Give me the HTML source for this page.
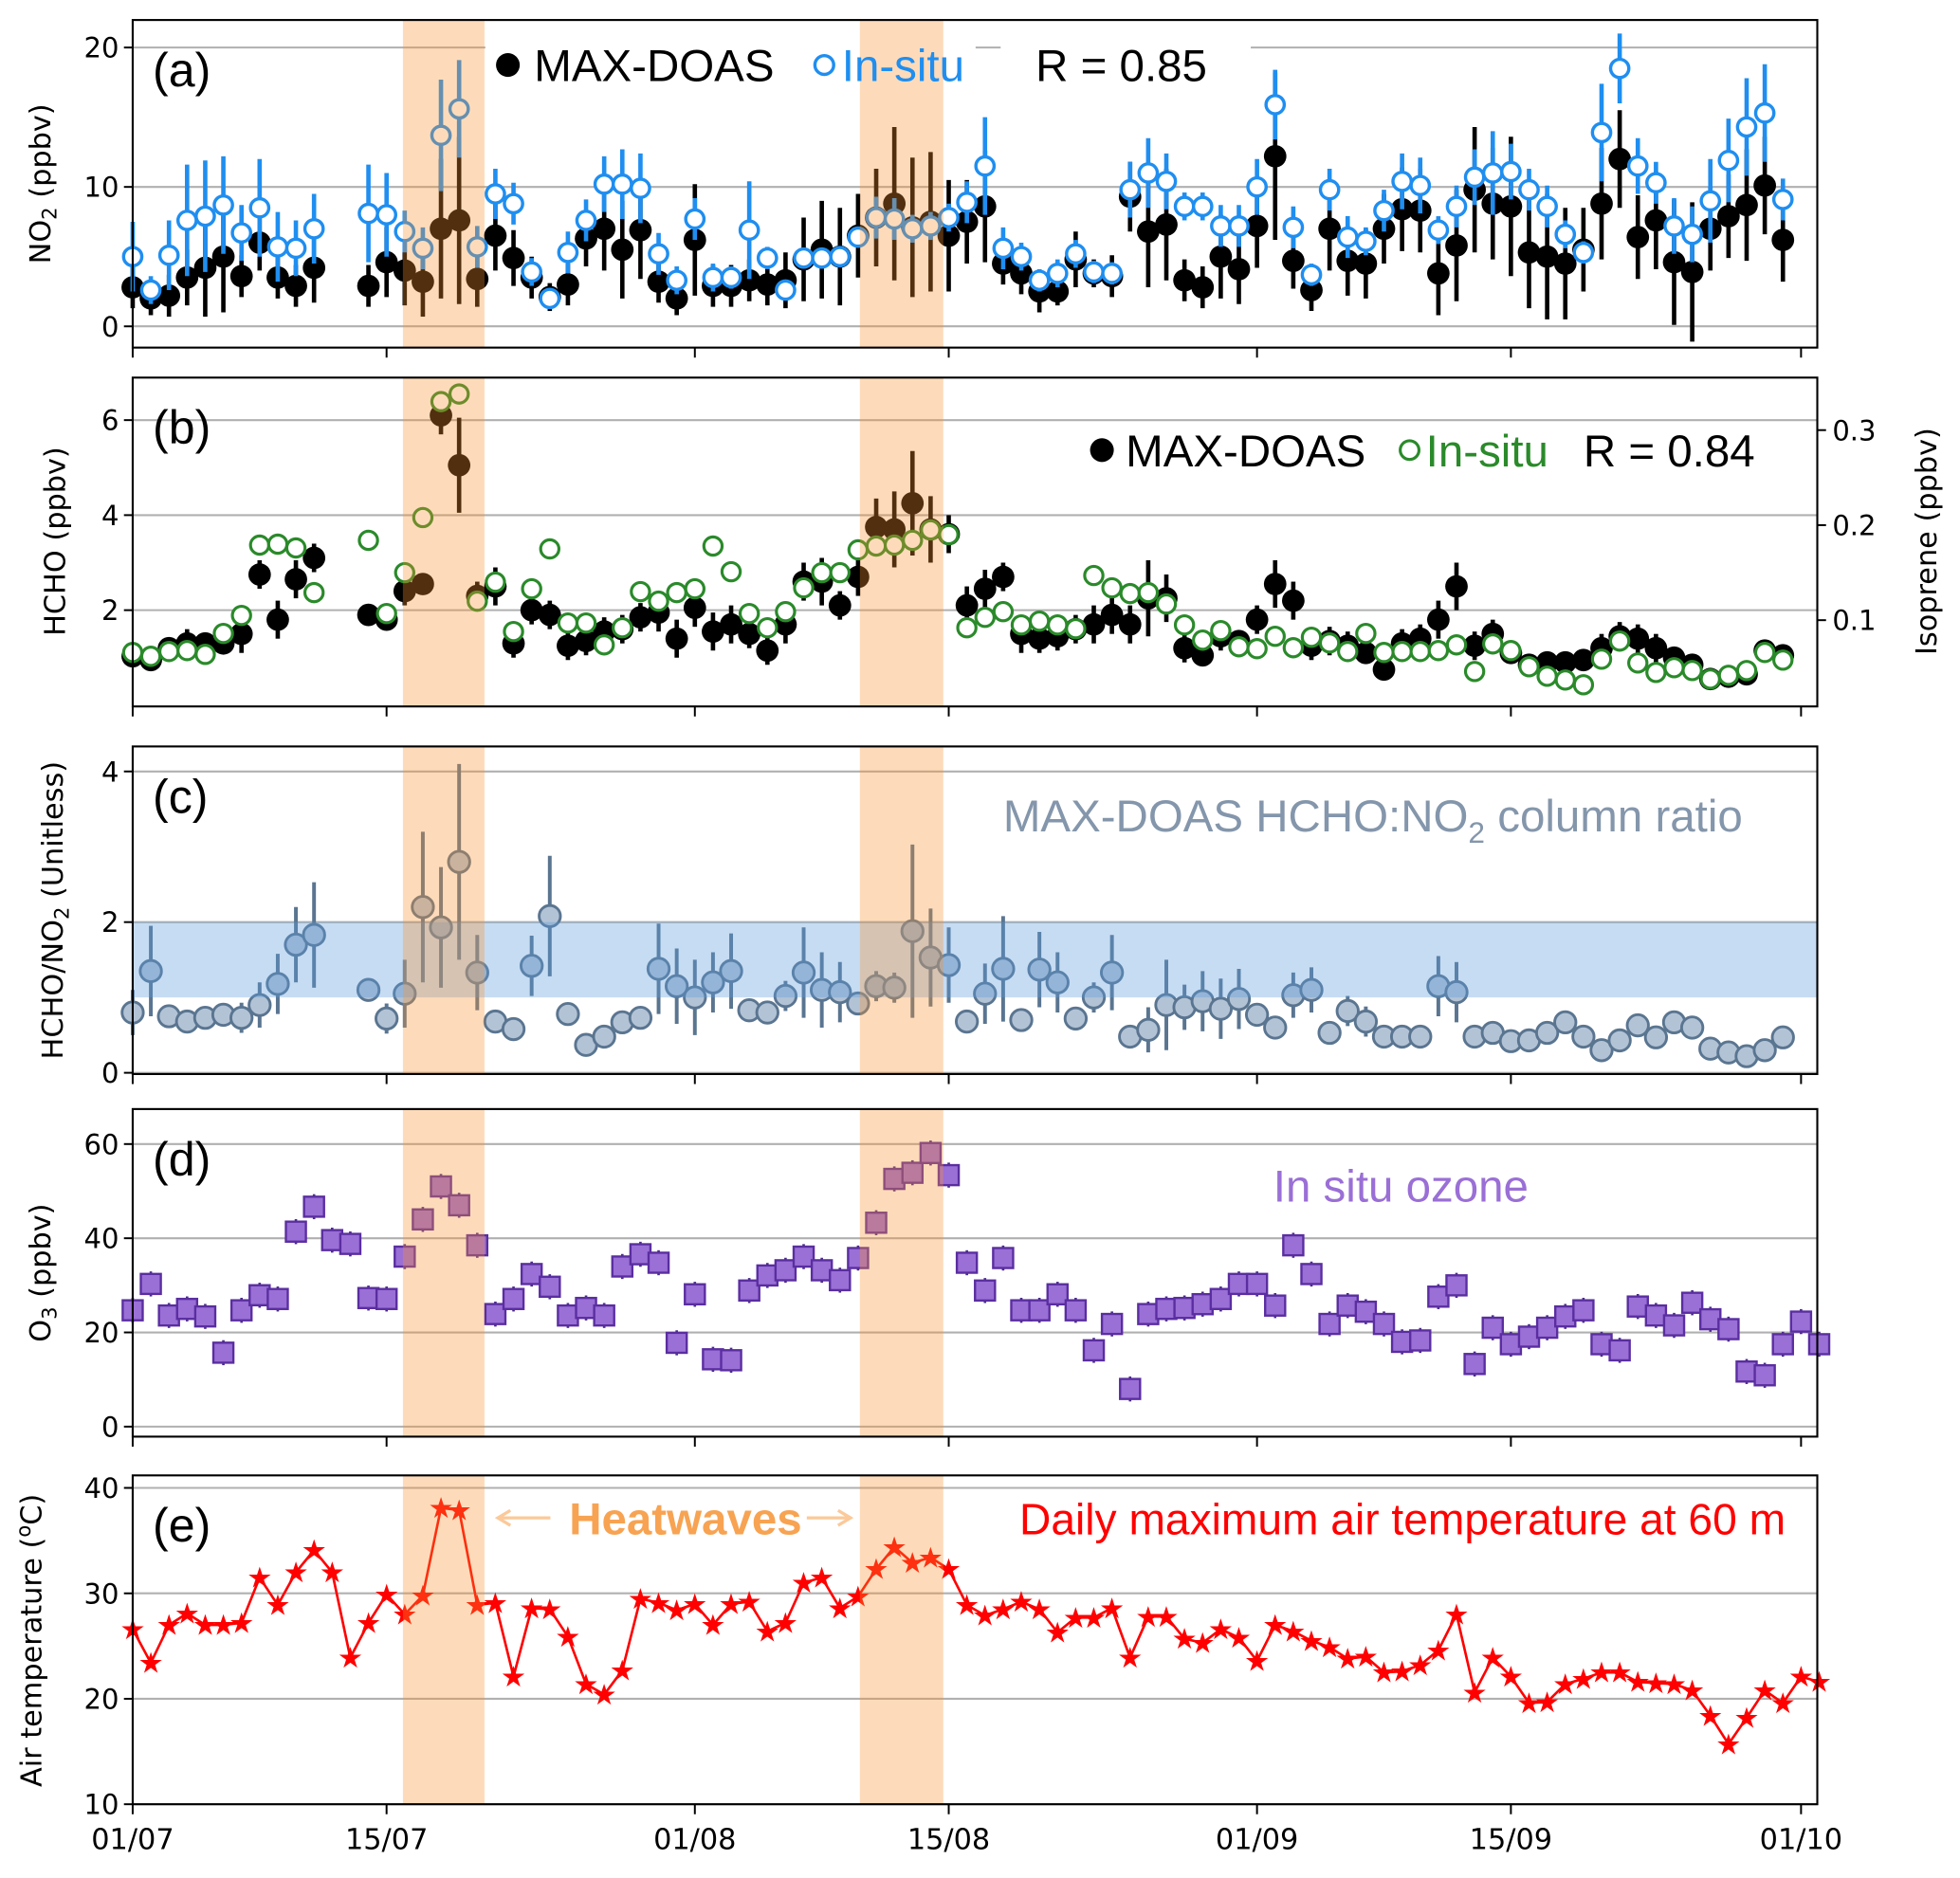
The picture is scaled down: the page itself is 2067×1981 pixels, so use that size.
<!DOCTYPE html>
<html><head><meta charset="utf-8"><style>
html,body{margin:0;padding:0;background:#fff}
svg{display:block;font-family:"Liberation Sans",sans-serif}
.dj{font-family:"DejaVu Sans",sans-serif}
</style></head><body>
<svg id="chart" width="2067" height="1981" viewBox="0 0 1567 1502" xmlns="http://www.w3.org/2000/svg">
<rect width="1567" height="1502" fill="#fff"/>
<g id="layer"></g>
</svg>
<script>
// ---------- data ----------
const xTickDays=[0,14,31,45,62,76,92];
const xTickLabels=["01/07","15/07","01/08","15/08","01/09","15/09","01/10"];
const heatwaves=[[14.9,19.4],[40.1,44.7]];

const aDays=[0,1,2,3,4,5,6,7,8,9,10,13,14,15,16,17,18,19,20,21,22,23,24,25,26,27,28,29,30,31,32,33,34,35,36,37,38,39,40,41,42,43,44,45,46,47,48,49,50,51,52,53,54,55,56,57,58,59,60,61,62,63,64,65,66,67,68,69,70,71,72,73,74,75,76,77,78,79,80,81,82,83,84,85,86,87,88,89,90,91];
const no2Max=[2.8,2.0,2.2,3.5,4.2,5.0,3.6,6.0,3.5,2.9,4.2,2.9,4.6,4.0,3.2,7.0,7.6,3.4,6.5,4.9,3.5,2.1,3.0,6.3,7.0,5.5,6.9,3.2,2.0,6.2,2.9,2.9,3.3,3.0,3.3,4.8,5.5,5.0,6.5,7.8,8.8,7.1,7.5,6.5,7.5,8.6,4.5,3.8,2.5,2.5,4.8,3.8,3.6,9.3,6.8,7.3,3.3,2.8,5.0,4.1,7.2,12.2,4.7,2.6,7.0,4.7,4.5,7.0,8.4,8.3,3.8,5.8,9.8,8.8,8.6,5.3,5.0,4.5,5.5,8.8,12.0,6.4,7.6,4.6,3.9,7.0,7.9,8.7,10.1,6.2];
const no2MaxErr=[1.5,1.2,1.5,2,3.5,4,1.5,2,1.5,1.5,2.5,1.5,2.5,2.5,2.5,5,6,2,2.5,2,1.5,1,1.5,2,3,3.5,3.5,1.5,1.2,4,1.5,1.5,1.5,1.5,2,3,3.5,3.5,3,3.5,5.5,5,5,4,3,4,1.5,1.5,1.5,1,2,1,1.5,2.5,4,4,1.5,1.5,3,2.5,3,6,2,1.5,3,2.5,2.5,2.5,3,3,3,4,4.5,4,5,4,4.5,4,3,4,3.5,3,3.5,4.5,5,3,3,4,3.5,3];
const no2Ins=[5.0,2.6,5.1,7.6,7.9,8.7,6.7,8.5,5.7,5.6,7.0,8.1,8.0,6.8,5.6,13.7,15.6,5.7,9.5,8.8,3.9,2.0,5.3,7.6,10.2,10.2,9.9,5.2,3.3,7.7,3.5,3.5,6.9,4.9,2.6,4.9,4.9,5.0,6.4,7.8,7.7,7.0,7.2,7.8,8.9,11.5,5.6,5.0,3.3,3.8,5.2,3.9,3.8,9.8,11.0,10.4,8.6,8.6,7.2,7.2,10.0,15.9,7.1,3.7,9.8,6.4,6.1,8.3,10.4,10.1,6.9,8.6,10.7,11.0,11.1,9.8,8.6,6.6,5.3,13.9,18.5,11.5,10.3,7.2,6.6,9.0,11.9,14.3,15.3,9.1];
const no2InsErr=[2.5,1,2.5,4,4,3.5,2,3.5,2.5,2,2.5,3.5,3,1.5,1.5,4,3.5,1.5,1.8,1.5,1,0.5,1.5,1.5,2,2.5,2.5,1.5,1,1.5,1,0.8,3.5,0.8,0.5,0.5,0.5,0.5,0.5,1.5,1.5,1,1,1,1.5,3.5,1.5,1,0.8,1,1,0.8,0.8,2,2.5,2,1,1,1.5,1.5,2,2.5,1.5,0.8,1.5,1.5,1,1.5,2,2,1,1.5,2,3,2,1.5,1.5,1,0.8,3.5,2.5,2,1.5,2,2,3,3,3.5,3.5,1.5];

const hchoMax=[1.03,0.95,1.2,1.3,1.3,1.3,1.5,2.75,1.8,2.65,3.1,1.9,1.8,2.4,2.55,6.1,5.05,2.3,2.5,1.3,2.0,1.9,1.25,1.35,1.55,1.6,1.85,1.95,1.4,2.05,1.55,1.7,1.5,1.15,1.7,2.6,2.6,2.1,2.7,3.75,3.7,4.25,3.7,3.6,2.1,2.45,2.7,1.5,1.4,1.45,1.6,1.7,1.9,1.7,2.25,2.25,1.2,1.05,1.45,1.35,1.8,2.55,2.2,1.25,1.35,1.25,1.1,0.75,1.3,1.4,1.8,2.5,1.25,1.5,1.1,0.85,0.9,0.9,0.95,1.2,1.45,1.4,1.2,1.0,0.85,0.55,0.6,0.65,1.15,1.05];
const hchoErr=[0.2,0.2,0.2,0.3,0.2,0.2,0.4,0.3,0.4,0.4,0.3,0.2,0.2,0.3,0.2,0.4,1.0,0.3,0.4,0.3,0.3,0.3,0.3,0.3,0.3,0.3,0.3,0.4,0.4,0.4,0.4,0.4,0.3,0.3,0.4,0.4,0.5,0.3,0.4,0.6,0.8,1.1,0.7,0.4,0.4,0.4,0.3,0.4,0.3,0.3,0.3,0.4,0.4,0.4,0.8,0.5,0.3,0.2,0.3,0.2,0.3,0.5,0.4,0.3,0.3,0.3,0.2,0.2,0.3,0.3,0.4,0.5,0.3,0.3,0.2,0.2,0.2,0.2,0.2,0.3,0.3,0.3,0.3,0.2,0.2,0.2,0.2,0.2,0.2,0.2];
const isoprene=[0.066,0.062,0.067,0.068,0.064,0.086,0.105,0.179,0.18,0.176,0.129,0.184,0.107,0.15,0.208,0.33,0.338,0.12,0.14,0.088,0.133,0.175,0.097,0.097,0.074,0.092,0.13,0.12,0.129,0.133,0.178,0.151,0.107,0.092,0.109,0.134,0.15,0.15,0.174,0.178,0.179,0.184,0.195,0.19,0.092,0.103,0.109,0.095,0.099,0.095,0.091,0.147,0.134,0.128,0.129,0.117,0.095,0.079,0.089,0.072,0.070,0.083,0.071,0.082,0.076,0.067,0.086,0.066,0.067,0.067,0.068,0.074,0.046,0.075,0.068,0.051,0.041,0.037,0.032,0.059,0.078,0.055,0.045,0.050,0.047,0.038,0.042,0.047,0.066,0.058];

const ratio=[0.8,1.35,0.75,0.68,0.73,0.77,0.73,0.9,1.18,1.7,1.83,1.1,0.72,1.05,2.2,1.93,2.8,1.33,0.68,0.58,1.42,2.08,0.78,0.37,0.48,0.67,0.73,1.38,1.15,1.0,1.2,1.35,0.83,0.8,1.02,1.33,1.1,1.07,0.92,1.15,1.13,1.88,1.53,1.43,0.68,1.05,1.38,0.7,1.37,1.2,0.72,1.0,1.33,0.48,0.57,0.9,0.87,0.95,0.85,0.98,0.77,0.6,1.03,1.1,0.53,0.82,0.68,0.48,0.48,0.48,1.15,1.07,0.48,0.53,0.42,0.43,0.53,0.67,0.48,0.3,0.43,0.63,0.47,0.67,0.6,0.32,0.27,0.22,0.3,0.47];
const ratioErr=[0.3,0.6,0.1,0.1,0.1,0.15,0.2,0.3,0.4,0.5,0.7,0.1,0.2,0.45,1.0,0.8,1.3,0.5,0.1,0.1,0.4,0.8,0.1,0.1,0.1,0.1,0.1,0.6,0.5,0.5,0.4,0.5,0.1,0.1,0.2,0.6,0.5,0.4,0.1,0.2,0.2,1.15,0.65,0.5,0.1,0.4,0.7,0.1,0.5,0.4,0.1,0.2,0.5,0.1,0.3,0.6,0.3,0.4,0.4,0.4,0.1,0.1,0.3,0.3,0.1,0.2,0.2,0.1,0.1,0.1,0.4,0.4,0.1,0.1,0.1,0.1,0.1,0.1,0.1,0.1,0.15,0.1,0.1,0.1,0.1,0.1,0.1,0.1,0.1,0.1];

const o3Days=[0,1,2,3,4,5,6,7,8,9,10,11,12,13,14,15,16,17,18,19,20,21,22,23,24,25,26,27,28,29,30,31,32,33,34,35,36,37,38,39,40,41,42,43,44,45,46,47,48,49,50,51,52,53,54,55,56,57,58,59,60,61,62,63,64,65,66,67,68,69,70,71,72,73,74,75,76,77,78,79,80,81,82,83,84,85,86,87,88,89,90,91,92,93];
const o3=[24.7,30.3,23.6,25,23.4,15.7,24.7,27.9,27.1,41.4,46.7,39.6,38.8,27.3,27.1,36.1,44,51,47,38.5,23.9,27.1,32.4,29.7,23.6,25.2,23.6,34,36.6,34.8,17.8,28.1,14.3,14.1,28.9,32.1,33.2,36.1,33.2,31.1,35.8,43.3,52.6,53.9,58.1,53.4,34.8,28.9,35.8,24.7,24.7,28.1,24.7,16.2,21.8,8.0,23.9,25,25.2,26,27.1,30.3,30.3,25.7,38.5,32.4,21.8,25.7,24.4,21.8,18,18.3,27.6,30,13.3,21,17.5,19.1,21,23.4,24.7,17.5,16.2,25.5,23.6,21.5,26.3,22.8,20.7,11.7,10.9,17.5,22.3,17.5];
const temp=[26.6,23.4,27,28.1,27,27,27.2,31.5,28.9,32,34.1,32,23.9,27.2,29.9,28,29.8,38.1,37.9,28.9,29.1,22.1,28.6,28.5,25.9,21.4,20.4,22.7,29.5,29.1,28.4,29,27,29,29.2,26.4,27.2,31,31.5,28.6,29.7,32.3,34.4,32.9,33.4,32.3,28.9,27.9,28.5,29.2,28.5,26.3,27.7,27.7,28.6,23.9,27.8,27.8,25.7,25.3,26.6,25.8,23.6,27,26.4,25.5,24.9,23.8,24,22.5,22.6,23.2,24.6,28,20.6,23.9,22.1,19.6,19.7,21.4,21.9,22.5,22.5,21.6,21.5,21.4,20.8,18.4,15.7,18.2,20.8,19.6,22.1,21.6];

// ---------- helpers ----------
const NS="http://www.w3.org/2000/svg";
const layer=document.getElementById('layer');
function mk(tag,attrs,parent,text){const e=document.createElementNS(NS,tag);for(const k in attrs)e.setAttribute(k,attrs[k]);if(text!==undefined)e.textContent=text;(parent||layer).appendChild(e);return e;}
const X0=106,X1=1453,PXD=14.5;
function xs(d){return X0+PXD*d;}
function ymap(v0,y0,v1,y1){return v=>y0+(v-v0)*(y1-y0)/(v1-v0);}
const panels=[
 {id:'a',top:16,bot:278,y:ymap(0,261,20,38),ticks:[0,10,20]},
 {id:'b',top:302,bot:565,y:ymap(2,488,6,336),ticks:[2,4,6]},
 {id:'c',top:597,bot:859,y:ymap(0,858,4,617),ticks:[0,2,4]},
 {id:'d',top:887,bot:1149,y:ymap(0,1141,60,915),ticks:[0,20,40,60]},
 {id:'e',top:1180,bot:1443,y:ymap(10,1443,40,1190),ticks:[10,20,30,40]}
];
function grid(p,g){
 p.ticks.forEach(t=>{const y=p.y(t);
  const l=mk('line',{x1:X0,x2:X1,y1:y,y2:y,stroke:'#b0b0b0','stroke-width':1.6},g);
  
 });
}
function frame(p,g){
 p.ticks.forEach(t=>{const y=p.y(t);
  mk('line',{x1:X0-7,x2:X0,y1:y,y2:y,stroke:'#000','stroke-width':1.5},g);
  const tl=mk('text',{x:X0-11,y:y+8,'font-size':22,'text-anchor':'end',fill:'#000',class:'dj'},g,String(t));
  
 });
 xTickDays.forEach(d=>mk('line',{x1:xs(d),x2:xs(d),y1:p.bot,y2:p.bot+8,stroke:'#000','stroke-width':1.5},g));
 const r=mk('rect',{x:X0,y:p.top,width:X1-X0,height:p.bot-p.top,fill:'none',stroke:'#000','stroke-width':1.6},g);
 
 const lab=mk('text',{x:122,y:p.top+53,'font-size':38,fill:'#000'},g,'('+p.id+')');
 
}
function bands(p,g){
 heatwaves.forEach(h=>{const b=mk('rect',{x:xs(h[0]),y:p.top,width:xs(h[1])-xs(h[0]),height:p.bot-p.top,fill:'rgb(248,145,45)','fill-opacity':0.33},g);
  });
}
function errbar(g,x,y1,y2,col,w){mk('line',{x1:x,x2:x,y1:y1,y2:y2,stroke:col,'stroke-width':w},g);}
function ytitle(txt,x,y,g){const t=mk('text',{x:x,y:y,'font-size':23,'text-anchor':'middle',class:'dj',transform:`rotate(-90 ${x} ${y})`},g);t.innerHTML=txt;return t;}

// ---------- panel a ----------
(function(){const p=panels[0];const g=mk('g',{});
 grid(p,g);
 mk('rect',{x:388,y:26,width:392,height:36,fill:'#fff'},g);
 mk('rect',{x:800,y:26,width:200,height:36,fill:'#fff'},g);
 aDays.forEach((d,i)=>{const x=xs(d);errbar(g,x,p.y(no2Max[i]-no2MaxErr[i]),p.y(no2Max[i]+no2MaxErr[i]),'#000',3.5);});
 aDays.forEach((d,i)=>{const c=mk('circle',{cx:xs(d),cy:p.y(no2Max[i]),r:9,fill:'#000'},g);});
 aDays.forEach((d,i)=>{const x=xs(d);errbar(g,x,p.y(no2Ins[i]-no2InsErr[i]),p.y(no2Ins[i]+no2InsErr[i]),'#1f8ef0',3.5);});
 aDays.forEach((d,i)=>{const c=mk('circle',{cx:xs(d),cy:p.y(no2Ins[i]),r:7.3,fill:'#fff',stroke:'#1f8ef0','stroke-width':2.6},g);});
 bands(p,g);frame(p,g);
 const l1=mk('circle',{cx:406,cy:52,r:9.5,fill:'#000'},g);
 const t1=mk('text',{x:427,y:65,'font-size':36},g,'MAX-DOAS');
 const l2=mk('circle',{cx:659,cy:52,r:7.5,fill:'#fff',stroke:'#1f8ef0','stroke-width':2.6},g);
 const t2=mk('text',{x:673,y:65,'font-size':36,fill:'#1f8ef0'},g,'In-situ');
 const t3=mk('text',{x:828,y:65,'font-size':36},g,'R = 0.85');
 ytitle('NO<tspan font-size="16" dy="5">2</tspan><tspan dy="-5"> (ppbv)</tspan>',40,147,g);
})();

// ---------- panel b ----------
(function(){const p=panels[1];const g=mk('g',{});
 grid(p,g);
 const yr=ymap(0.1,496,0.3,344);
 aDays.forEach((d,i)=>{errbar(g,xs(d),p.y(hchoMax[i]-hchoErr[i]),p.y(hchoMax[i]+hchoErr[i]),'#000',3.5);});
 aDays.forEach((d,i)=>{const c=mk('circle',{cx:xs(d),cy:p.y(hchoMax[i]),r:9,fill:'#000'},g);});
 aDays.forEach((d,i)=>{const c=mk('circle',{cx:xs(d),cy:yr(isoprene[i]),r:7.3,fill:'#fff',stroke:'#2a8a2a','stroke-width':2.4},g);});
 bands(p,g);frame(p,g);
 [0.1,0.2,0.3].forEach(t=>{const y=yr(t);mk('line',{x1:X1,x2:X1+7,y1:y,y2:y,stroke:'#000','stroke-width':1.5},g);
  const tl=mk('text',{x:X1+12,y:y+8,'font-size':22,class:'dj'},g,String(t));});
 const l1=mk('circle',{cx:881,cy:360,r:9.5,fill:'#000'},g);
 const t1=mk('text',{x:900,y:373,'font-size':36},g,'MAX-DOAS');
 const l2=mk('circle',{cx:1127,cy:360,r:7.5,fill:'#fff',stroke:'#2a8a2a','stroke-width':2.4},g);
 const t2=mk('text',{x:1140,y:373,'font-size':36,fill:'#2a8a2a'},g,'In-situ');
 const t3=mk('text',{x:1266,y:373,'font-size':36},g,'R = 0.84');
 ytitle('HCHO (ppbv)',52,433,g);
 ytitle('Isoprene (ppbv)',1548,433,g);
})();

// ---------- panel c ----------
(function(){const p=panels[2];const g=mk('g',{});
 grid(p,g);
 aDays.forEach((d,i)=>{errbar(g,xs(d),p.y(Math.max(0,ratio[i]-ratioErr[i])),p.y(ratio[i]+ratioErr[i]),'#5a7590',3);});
 aDays.forEach((d,i)=>{const c=mk('circle',{cx:xs(d),cy:p.y(ratio[i]),r:8.5,fill:'#b3c3d6',stroke:'#5a7590','stroke-width':2.2},g);});
 const band=mk('rect',{x:X0,y:p.y(2),width:X1-X0,height:p.y(1)-p.y(2),fill:'rgb(92,155,220)','fill-opacity':0.35},g);
 
 bands(p,g);frame(p,g);
 const t=mk('text',{x:802,y:665,'font-size':36,fill:'#8496ab'},g);t.innerHTML='MAX-DOAS HCHO:NO<tspan font-size="24" dy="9">2</tspan><tspan dy="-9"> column ratio</tspan>';
 
 ytitle('HCHO/NO<tspan font-size="16" dy="5">2</tspan><tspan dy="-5"> (Unitless)</tspan>',50,728,g);
})();

// ---------- panel d ----------
(function(){const p=panels[3];const g=mk('g',{});
 grid(p,g);
 o3Days.forEach((d,i)=>{const x=xs(d),y=p.y(o3[i]);errbar(g,x,y-10,y+10,'#4a2a86',2);
  const s=mk('rect',{x:x-8,y:y-8,width:16,height:16,fill:'#9a6fd6',stroke:'#5a2ea0','stroke-width':1.8},g);});
 bands(p,g);frame(p,g);
 const t=mk('text',{x:1018,y:961,'font-size':36,fill:'#9a6fd6'},g,'In situ ozone');
 ytitle('O<tspan font-size="16" dy="5">3</tspan><tspan dy="-5"> (ppbv)</tspan>',40,1018,g);
})();

// ---------- panel e ----------
(function(){const p=panels[4];const g=mk('g',{});
 grid(p,g);
 const pts=o3Days.map((d,i)=>xs(d)+','+p.y(temp[i])).join(' ');
 const pl=mk('polyline',{points:pts,fill:'none',stroke:'#ff0000','stroke-width':2},g);
 o3Days.forEach((d,i)=>{const s=mk('text',{x:xs(d),y:p.y(temp[i])+8,'font-size':23,'text-anchor':'middle',fill:'#ff0000',class:'dj'},g,'★');});
 bands(p,g);frame(p,g);
 xTickDays.forEach((d,i)=>{const t=mk('text',{x:xs(d),y:1479,'font-size':23,'text-anchor':'middle',class:'dj'},g,xTickLabels[i]);});
 const ar1=mk('path',{d:'M440 1214 L398 1214 M408 1208 L398 1214 L408 1220',stroke:'#fbc99a','stroke-width':2.5,fill:'none'},g);
 const ar2=mk('path',{d:'M645 1214 L680 1214 M670 1208 L680 1214 L670 1220',stroke:'#fbc99a','stroke-width':2.5,fill:'none'},g);
 const t1=mk('text',{x:455,y:1227,'font-size':36,'font-weight':'bold',fill:'#f7a352'},g,'Heatwaves');
 const t2=mk('text',{x:815,y:1227,'font-size':35,fill:'#ff0000'},g,'Daily maximum air temperature at 60 m');
 ytitle('Air temperature (<tspan font-size="16" dy="-9">o</tspan><tspan dy="9">C)</tspan>',33,1312,g);
})();
</script>
</body></html>
